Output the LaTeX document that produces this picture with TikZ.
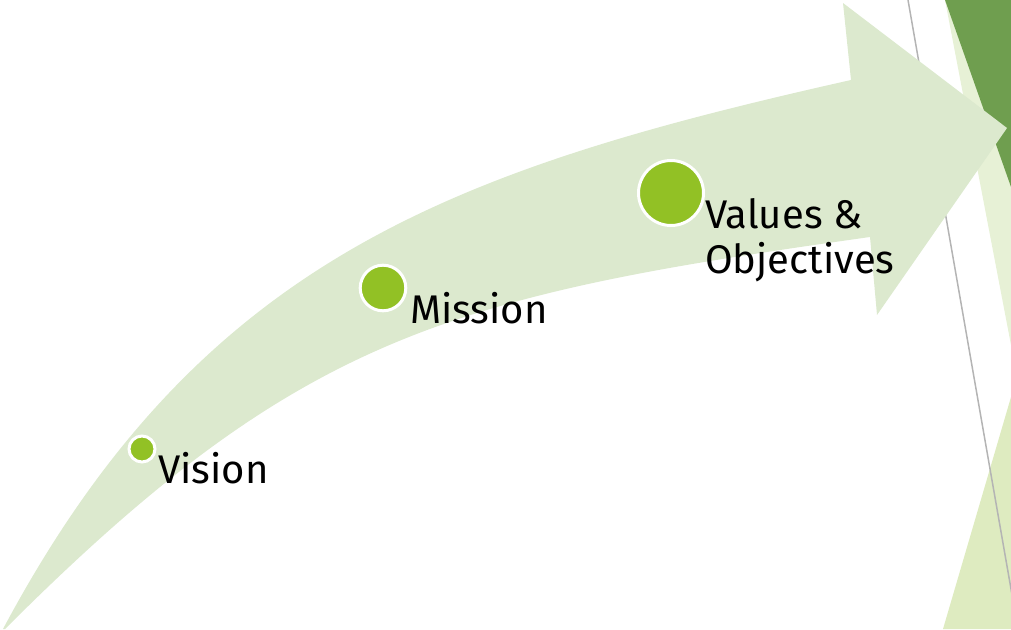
\documentclass[tikz,border=0pt]{standalone}
\usepackage{fontspec}
\setmainfont{Fira Sans}
\usepackage{xcolor}
\usepackage{tikz}
\usetikzlibrary{positioning, calc}
\definecolor{arrowgreen}{HTML}{DCE9CE}
\definecolor{dotgreen}{HTML}{92C125}
\definecolor{darkleaf}{HTML}{6F9E4F}
\definecolor{paleleaf}{HTML}{E7F1D6}
\definecolor{limeleaf}{HTML}{DEEBC0}
\definecolor{edgegray}{HTML}{B4B4B4}

\begin{document}
\begin{tikzpicture}[x=1pt, y=-1pt,
  milestone/.style={circle, fill=dotgreen, draw=white, line width=3pt, inner sep=0pt},
  steplabel/.style={font=\fontsize{40}{45}\selectfont, inner sep=0pt, anchor=base west, align=left}]
  \useasboundingbox (0,0) rectangle (1011,629);

  % Corner decoration
  \fill[paleleaf] (945,0) -- (1011,0) -- (1011,345) -- cycle;
  \fill[darkleaf] (945,0) -- (1011,0) -- (1011,187) -- cycle;
  \fill[limeleaf] (1011,397) -- (1011,629) -- (943,629) -- cycle;
  \draw[edgegray, line width=1.5pt] (908,0) -- (1018,629);

  % Arrow
  \fill[arrowgreen] (3,629) .. controls (200,260) and (450,170) .. (851,80)
    -- (843,3) -- (1007,128) -- (877,315) -- (870,237)
    .. controls (450,296) and (300,334) .. (5,629) -- cycle;

  % Milestones
  \node[milestone, minimum size=26pt] (vision) at (142,449) {};
  \node[milestone, minimum size=45.6pt] (mission) at (383,288) {};
  \node[milestone, minimum size=65pt] (values) at (671,193) {};

  % Labels (base of the last line)
  \node[steplabel] (visionlabel) at (158,483) {Vision};
  \node[steplabel] (missionlabel) at (410,323) {Mission};
  \node[steplabel] (valueslabel) at (705,273) {Values \&\\Objectives};
\end{tikzpicture}
\end{document}
